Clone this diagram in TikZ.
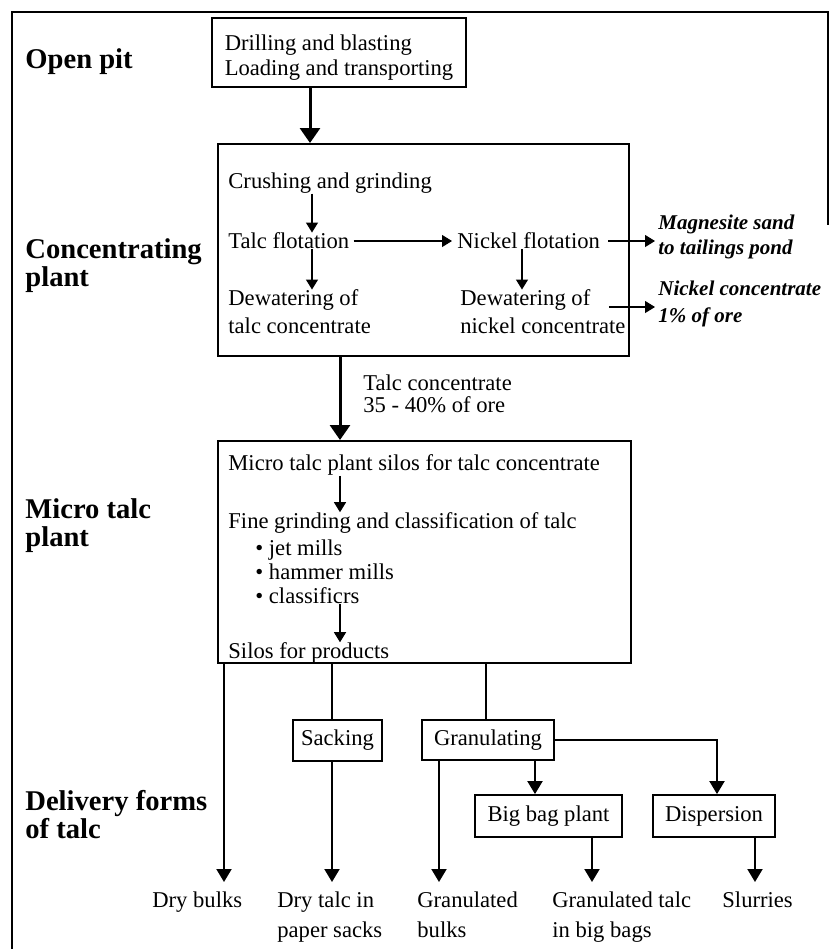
\documentclass[tikz,border=0pt]{standalone}
\usepackage{fontspec}
\setmainfont{Liberation Serif}
\usetikzlibrary{arrows.meta,positioning}

\tikzset{
  proc/.style={inner sep=0pt, anchor=west, align=left},
  phase/.style={inner sep=0pt, anchor=west, align=left,
    font=\fontsize{14.3}{14}\selectfont\bfseries},
  outlet/.style={inner sep=0pt, anchor=west, align=left,
    font=\fontsize{10.5}{12.5}\selectfont\bfseries\itshape},
  product/.style={inner sep=0pt, anchor=north west, align=left},
  unit/.style={draw, line width=0.9pt, inner sep=2pt},
  plant/.style={draw, line width=0.9pt, anchor=north west, inner sep=0pt},
  thin flow/.style={-{Triangle[width=6pt,length=5pt]}, line width=0.6pt},
  flow/.style={-{Triangle[width=7.5pt,length=6.5pt]}, line width=1pt},
  main flow/.style={-{Triangle[width=10pt,length=7.5pt]}, line width=1.5pt},
}

\begin{document}
\begin{tikzpicture}[x=0.5pt, y=-0.5pt, font=\fontsize{11.3}{12.5}\selectfont]
  \useasboundingbox (0,0) rectangle (830,949);

  % frame
  \draw[line width=0.7pt] (12,949) -- (12,12) -- (828,12) -- (828,225);

  % stage labels
  \node[phase] (pitlbl) at (25,62) {Open pit};
  \node[phase] (conclbl) at (25,266) {Concentrating\\plant};
  \node[phase] (microlbl) at (25,526) {Micro talc\\plant};
  \node[phase] (delivlbl) at (25,815) {Delivery forms\\of talc};

  % columns used by the vertical connectors
  \coordinate (pcol) at (310,0);
  \coordinate (tcol) at (312,0);
  \coordinate (ncol) at (522,0);
  \coordinate (mcol) at (340,0);
  \coordinate (dcol) at (224,0);
  \coordinate (scol) at (332,0);
  \coordinate (gcol) at (486,0);
  \coordinate (gbcol) at (439,0);
  \coordinate (bbcol) at (535,0);
  \coordinate (bbout) at (592,0);
  \coordinate (dpcol) at (717,0);
  \coordinate (dpout) at (755,0);

  % open pit
  \node[unit, minimum width=127pt, minimum height=34.5pt, align=left] (pit) at (339,52.5)
    {\rule{0pt}{12.7pt}Drilling and blasting\\Loading and transporting};

  % concentrating plant
  \node[plant, minimum width=205.5pt, minimum height=106pt] (conc) at (217,143) {};
  \node[proc] (crush) at (228,183) {Crushing and grinding};
  \node[proc] (tflot) at (228,241) {Talc flotation};
  \node[proc] (tdew) at (228,312) {Dewatering of\\[1.5pt]talc concentrate};
  \node[proc] (nflot) at (457,241) {Nickel flotation};
  \node[proc] (ndew) at (460,312) {Dewatering of\\[1.5pt]nickel concentrate};
  \node[outlet] (sand) at (658,237) {Magnesite sand\\to tailings pond};
  \node[outlet] (nconc) at (658,304) {Nickel concentrate\\[1pt]1\% of ore};

  \draw[main flow] (pit.south -| pcol) -- (conc.north -| pcol);
  \draw[thin flow] (crush.south -| tcol) -- (tflot.north -| tcol);
  \draw[thin flow] (tflot.south -| tcol) -- (tdew.north -| tcol);
  \draw[thin flow] ([xshift=2pt]tflot.east) -- ([xshift=-2.5pt]tflot.east -| nflot.west);
  \draw[thin flow] (nflot.south -| ncol) -- (ndew.north -| ncol);
  \draw[thin flow] ([xshift=4pt]nflot.east) -- ([xshift=-1.5pt]nflot.east -| sand.west);
  \draw[thin flow] ([xshift=-8.5pt,yshift=2.5pt]ndew.east) -- ([xshift=-1.5pt,yshift=2.5pt]ndew.east -| nconc.west);

  % micro talc plant
  \node[proc] (tconc) at (363,394) {Talc concentrate\\[-1.5pt]35 - 40\% of ore};
  \node[plant, minimum width=206.5pt, minimum height=111pt] (micro) at (217,440) {};
  \node[proc] (silo) at (228,465) {Micro talc plant silos for talc concentrate};
  \node[proc] (fine) at (228,523) {Fine grinding and classification of talc};
  \node[proc] (mills) at (255,572) {\textbullet\ jet mills\\[-0.5pt]\textbullet\ hammer mills\\[-0.5pt]\textbullet\ classificrs};
  \node[proc] (prod) at (228,653) {Silos for products};

  \draw[main flow] (conc.south -| mcol) -- (micro.north -| mcol);
  \draw[thin flow] (silo.south -| mcol) -- (fine.north -| mcol);
  \draw[thin flow] (mills.south -| mcol) -- (prod.north -| mcol);

  % delivery forms
  \node[unit, minimum width=44.5pt, minimum height=20.5pt] (sack) at (337.5,740.5) {Sacking};
  \node[unit, minimum width=66pt, minimum height=20pt] (gran) at (488,740) {Granulating};
  \node[unit, minimum width=73.5pt, minimum height=21pt] (bigbag) at (548.5,816) {Big bag plant};
  \node[unit, minimum width=61pt, minimum height=21pt] (disp) at (714,816) {Dispersion};

  \node[product] (drybulk) at (152,891) {Dry bulks};
  \node[product] (drysack) at (277,891) {Dry talc in\\[2.5pt]paper sacks};
  \node[product] (granbulk) at (417,891) {Granulated\\[2.5pt]bulks};
  \node[product] (granbag) at (552,891) {Granulated talc\\[2.5pt]in big bags};
  \node[product] (slurry) at (722,891) {Slurries};

  \draw[flow] (micro.south -| dcol) -- ([yshift=4.5pt]drybulk.north -| dcol);
  \draw[line width=1pt] (micro.south -| scol) -- (sack.north -| scol);
  \draw[flow] (sack.south -| scol) -- ([yshift=4.5pt]drysack.north -| scol);
  \draw[line width=1pt] (micro.south -| gcol) -- (gran.north -| gcol);
  \draw[flow] (gran.south -| gbcol) -- ([yshift=4.5pt]granbulk.north -| gbcol);
  \draw[flow] (gran.south -| bbcol) -- (bigbag.north -| bbcol);
  \draw[flow] (bigbag.south -| bbout) -- ([yshift=4.5pt]granbag.north -| bbout);
  \draw[flow] (gran.east) -| (disp.north -| dpcol);
  \draw[flow] (disp.south -| dpout) -- ([yshift=4.5pt]slurry.north -| dpout);
\end{tikzpicture}
\end{document}
